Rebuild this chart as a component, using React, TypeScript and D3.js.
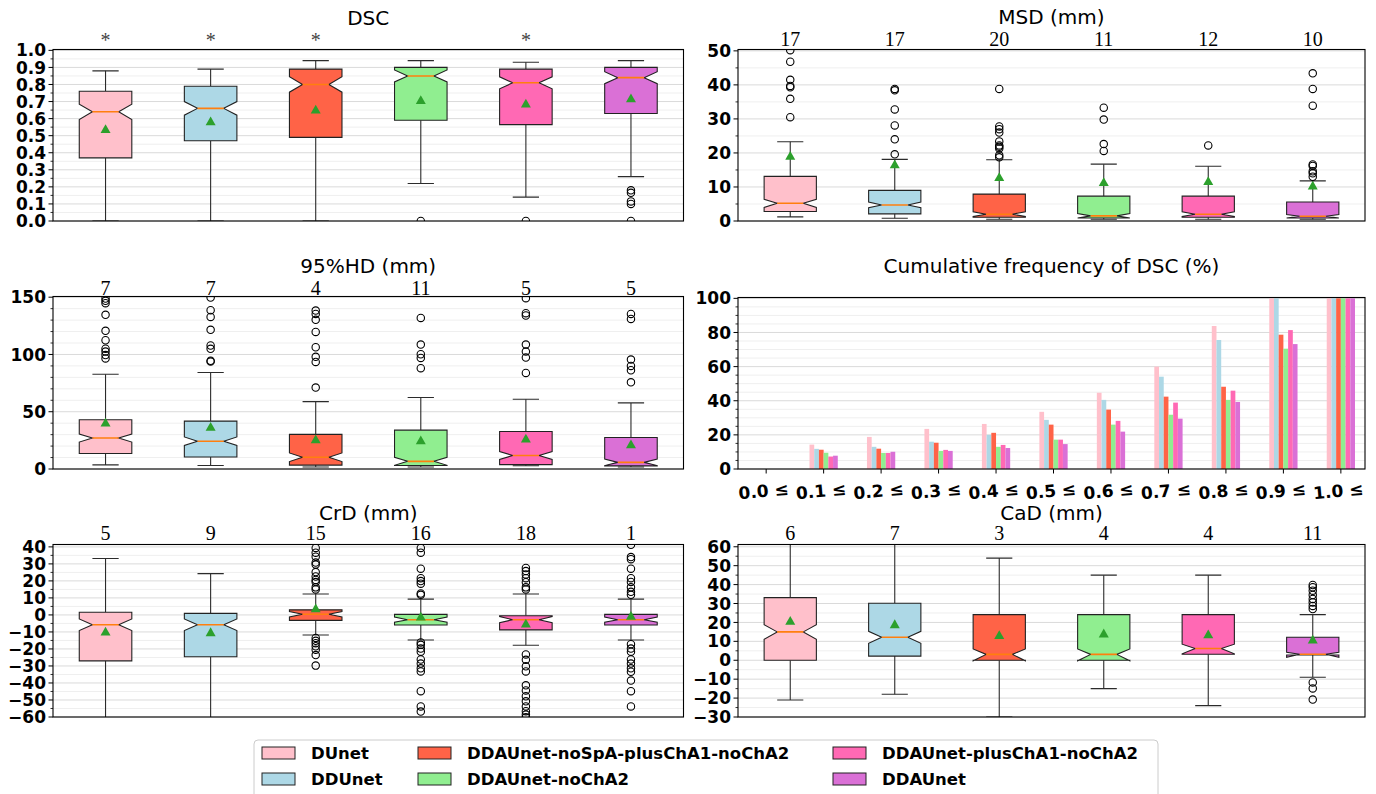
import React from 'react';
import * as d3 from 'd3';

const MODELS = ['DUnet', 'DDUnet', 'DDAUnet-noSpA-plusChA1-noChA2', 'DDAUnet-noChA2', 'DDAUnet-plusChA1-noChA2', 'DDAUnet'];
const COLORS = ['#ffc0cb', '#add8e6', '#ff6347', '#90ee90', '#ff69b4', '#da70d6'];

// ---- DSC ----
const DSC_Q1 = [0.37, 0.47, 0.49, 0.59, 0.565, 0.63];
const DSC_MED = [0.64, 0.66, 0.80, 0.85, 0.81, 0.84];
const DSC_Q3 = [0.76, 0.79, 0.89, 0.90, 0.89, 0.90];
const DSC_NLO = [0.595, 0.62, 0.755, 0.815, 0.775, 0.805];
const DSC_NHI = [0.685, 0.70, 0.845, 0.885, 0.845, 0.875];
const DSC_WLO = [0.0, 0.0, 0.0, 0.22, 0.14, 0.26];
const DSC_WHI = [0.88, 0.89, 0.94, 0.94, 0.93, 0.94];
const DSC_MEAN = [0.54, 0.585, 0.655, 0.71, 0.69, 0.72];
const DSC_OUT = [[], [], [], [0.0], [0.0], [0.18, 0.165, 0.115, 0.10, 0.0]];
const DSC_STARS = ['*', '*', '*', '', '*', ''];

// ---- MSD (mm) ----
const MSD_Q1 = [2.8, 2.1, 1.1, 0.9, 1.1, 0.9];
const MSD_MED = [5.2, 4.7, 2.0, 1.5, 2.0, 1.4];
const MSD_Q3 = [13.1, 9.0, 7.9, 7.3, 7.3, 5.6];
const MSD_NLO = [4.0, 3.9, 1.3, 0.9, 1.3, 0.9];
const MSD_NHI = [6.4, 5.6, 2.7, 2.2, 2.7, 1.9];
const MSD_WLO = [1.2, 0.8, 0.5, 0.5, 0.5, 0.5];
const MSD_WHI = [23.3, 18.1, 18.0, 16.7, 16.1, 11.8];
const MSD_MEAN = [19.2, 16.7, 13.0, 11.5, 11.8, 10.5];
const MSD_OUT = [
  [50.2, 46.8, 41.5, 39.7, 39.3, 35.9, 30.5],
  [38.8, 38.4, 32.8, 28.1, 24.0, 19.6],
  [38.8, 27.8, 27.0, 26.0, 23.4, 22.2, 21.8, 21.3, 19.3, 18.7],
  [33.3, 29.8, 22.6, 20.6],
  [22.2],
  [43.4, 38.8, 33.9, 16.6, 16.2, 14.6, 14.0, 13.0],
];
const MSD_COUNTS = ['17', '17', '20', '11', '12', '10'];

// ---- 95%HD (mm) ----
const HD_Q1 = [13.5, 10.5, 3.4, 3.0, 3.8, 2.7];
const HD_MED = [27.0, 24.2, 10.3, 6.7, 11.8, 5.8];
const HD_Q3 = [43.0, 41.8, 30.2, 33.9, 32.7, 27.5];
const HD_NLO = [23.5, 20.5, 6.5, 3.2, 8.3, 3.0];
const HD_NHI = [30.5, 28.0, 14.0, 10.2, 15.3, 8.7];
const HD_WLO = [3.6, 3.0, 1.8, 1.8, 2.8, 1.8];
const HD_WHI = [82.7, 84.3, 58.8, 62.4, 60.9, 57.7];
const HD_MEAN = [40.8, 37.0, 26.2, 25.3, 26.8, 21.8];
const HD_OUT = [
  [148.8, 146.8, 144.8, 134.6, 120.6, 112.4, 105.0, 102.5, 99.5, 96.5],
  [149.7, 138.6, 132.8, 121.5, 107.8, 104.9, 94.5, 93.8],
  [138.3, 135.4, 130.2, 119.7, 106.3, 97.9, 93.5, 71.1],
  [131.9, 108.6, 100.2, 97.0, 88.0],
  [149.1, 136.0, 134.0, 108.6, 102.5, 97.3, 83.9],
  [135.4, 131.0, 95.5, 90.0, 86.2, 75.7],
];
const HD_COUNTS = ['7', '7', '4', '11', '5', '5'];

// ---- Cumulative frequency of DSC (%) ----
const CF_LABELS = ['0.0 ≤', '0.1 ≤', '0.2 ≤', '0.3 ≤', '0.4 ≤', '0.5 ≤', '0.6 ≤', '0.7 ≤', '0.8 ≤', '0.9 ≤', '1.0 ≤'];
const CF_DUNET = [0, 14.3, 18.8, 23.5, 26.4, 33.5, 44.7, 60.0, 83.8, 100, 100];
const CF_DDUNET = [0, 11.8, 13.0, 16.0, 20.0, 28.8, 40.5, 54.1, 75.6, 100, 100];
const CF_NOSPA = [0, 11.3, 11.9, 15.4, 21.2, 26.0, 34.8, 42.4, 48.2, 78.7, 100];
const CF_NOCHA2 = [0, 9.5, 9.4, 10.6, 13.0, 17.2, 26.0, 31.8, 40.5, 70.5, 100];
const CF_PLUSCHA1 = [0, 7.3, 9.4, 11.2, 14.1, 17.2, 28.2, 38.9, 45.9, 81.4, 100];
const CF_DDAUNET = [0, 7.8, 10.1, 10.6, 12.3, 14.6, 21.9, 29.5, 39.3, 73.2, 100];

// ---- CrD (mm) ----
const CRD_Q1 = [-27.0, -24.6, -3.2, -5.9, -8.8, -5.9];
const CRD_MED = [-5.8, -5.8, 0.4, -2.8, -2.8, -2.8];
const CRD_Q3 = [1.6, 0.9, 3.0, 0.3, -0.5, 0.3];
const CRD_NLO = [-9.2, -9.2, -1.2, -4.3, -4.6, -4.3];
const CRD_NHI = [-2.4, -2.4, 2.0, -1.3, -1.0, -1.3];
const CRD_WLO = [-63, -63, -11.8, -14.7, -17.8, -14.7];
const CRD_WHI = [33.2, 24.3, 12.3, 9.3, 12.3, 9.3];
const CRD_MEAN = [-9.6, -10.0, 4.0, -0.8, -4.9, -0.4];
const CRD_OUT = [
  [],
  [],
  [39.4, 36.6, 34.2, 30.8, 29.6, 25.2, 22.6, 20.6, 19.3, 16.2, 15.0, -13.5, -15.2, -16.6, -18.4, -20.4, -23.6, -29.8],
  [39.4, 36.6, 27.2, 21.6, 19.9, 18.4, 12.6, 11.8, -16.2, -17.6, -19.8, -21.6, -26.2, -28.6, -31.4, -33.2, -44.8, -53.8, -56.8],
  [27.6, 25.8, 23.8, 21.6, 19.2, 16.2, 15.0, -23.2, -26.4, -30.2, -33.2, -41.4, -44.4, -47.8, -50.8, -53.8, -56.6, -58.6, -60.2],
  [41.2, 34.0, 32.8, 27.2, 21.6, 19.4, 16.2, 13.6, 11.8, -17.2, -19.8, -21.6, -26.2, -28.6, -31.4, -33.4, -38.6, -44.8, -53.8],
];
const CRD_COUNTS = ['5', '9', '15', '16', '18', '1'];

// ---- CaD (mm) ----
const CAD_Q1 = [0.0, 2.2, 0.0, 0.0, 3.2, 2.8];
const CAD_MED = [15.0, 12.2, 3.1, 3.1, 6.2, 3.2];
const CAD_Q3 = [33.1, 30.1, 24.1, 24.1, 24.1, 12.2];
const CAD_NLO = [11.1, 9.0, -0.3, -0.3, 3.4, 1.6];
const CAD_NHI = [18.8, 15.3, 6.0, 6.0, 8.5, 4.2];
const CAD_WLO = [-21.0, -18.0, -30.0, -15.0, -24.0, -9.0];
const CAD_WHI = [63, 63, 54.0, 45.0, 45.0, 24.1];
const CAD_MEAN = [21.0, 19.2, 13.4, 14.3, 13.8, 11.1];
const CAD_OUT = [[], [], [], [], [], [39.8, 38.6, 36.8, 34.5, 32.4, 30.6, 28.7, 27.1, -11.7, -14.9, -20.8]];
const CAD_COUNTS = ['6', '7', '3', '4', '4', '11'];

type Stat = {
  model: string; color: string; q1: number; med: number; q3: number;
  nlo: number; nhi: number; wlo: number; whi: number; mean: number; out: number[];
};

function buildStats(q1: number[], med: number[], q3: number[], nlo: number[], nhi: number[],
  wlo: number[], whi: number[], mean: number[], out: number[][]): Stat[] {
  return MODELS.map((m, i) => ({
    model: m, color: COLORS[i], q1: q1[i], med: med[i], q3: q3[i], nlo: nlo[i], nhi: nhi[i],
    wlo: wlo[i], whi: whi[i], mean: mean[i], out: out[i],
  }));
}

const SANS = 'DejaVu Sans, Verdana, sans-serif';
const SERIF = 'Liberation Serif, Times New Roman, serif';
const TICK_FS = 17;
const GRID_MAJOR = '#dadada';
const GRID_MINOR = '#efefef';

const LEFT = { x0: 53, x1: 683.5 };
const RIGHT = { x0: 738, x1: 1365 };
const ROW1 = { y0: 49.5, y1: 221 };
const ROW2 = { y0: 296.5, y1: 469 };
const ROW3 = { y0: 544.5, y1: 717 };

function YAxis({ y, x0, x1, majors, minors, fmt }: any) {
  return (
    <g>
      {minors.map((v: number, i: number) => (
        <line key={'mi' + i} x1={x0 - 2.5} x2={x0} y1={y(v)} y2={y(v)} stroke="#000" strokeWidth={0.8} />
      ))}
      {majors.map((v: number, i: number) => (
        <g key={'ma' + i}>
          <line x1={x0 - 4.5} x2={x0} y1={y(v)} y2={y(v)} stroke="#000" strokeWidth={1} />
          <text x={x0 - 7} y={y(v)} dy="0.36em" textAnchor="end" fontFamily={SANS} fontWeight="bold" fontSize={TICK_FS} fill="#000">{fmt(v)}</text>
        </g>
      ))}
    </g>
  );
}

function Grid({ y, x0, x1, majors, minors }: any) {
  return (
    <g>
      {minors.map((v: number, i: number) => (
        <line key={'gm' + i} x1={x0} x2={x1} y1={y(v)} y2={y(v)} stroke={GRID_MINOR} strokeWidth={1} />
      ))}
      {majors.map((v: number, i: number) => (
        <line key={'gM' + i} x1={x0} x2={x1} y1={y(v)} y2={y(v)} stroke={GRID_MAJOR} strokeWidth={1} />
      ))}
    </g>
  );
}

function tickSets(domain: number[], step: number, minorStep: number) {
  const majors = d3.range(Math.ceil(domain[0] / step - 1e-9) * step, domain[1] + 1e-9, step).map((v) => +v.toFixed(6));
  const minors = d3.range(Math.ceil(domain[0] / minorStep - 1e-9) * minorStep, domain[1] + 1e-9, minorStep)
    .map((v) => +v.toFixed(6))
    .filter((v) => !majors.some((t) => Math.abs(t - v) < minorStep / 10));
  return { majors, minors };
}

function BoxPanel({ id, x0, x1, y0, y1, domain, step, minorStep, fmt, stats, title, titleY, labels, labelY, labelColor }: any) {
  const x = d3.scalePoint<string>().domain(MODELS).range([x0, x1]).padding(0.5);
  const y = d3.scaleLinear().domain(domain).range([y1, y0]);
  const bw = x.step() * 0.5;
  const { majors, minors } = tickSets(domain, step, minorStep);
  const clip = 'clip-' + id;
  const line = d3.line();
  return (
    <g>
      <defs>
        <clipPath id={clip}><rect x={x0} y={y0} width={x1 - x0} height={y1 - y0} /></clipPath>
      </defs>
      <rect x={x0} y={y0} width={x1 - x0} height={y1 - y0} fill="#fff" />
      <Grid y={y} x0={x0} x1={x1} majors={majors} minors={minors} />
      <g clipPath={`url(#${clip})`}>
        {stats.map((s: Stat) => {
          const cx = x(s.model) as number;
          const L = cx - bw / 2, R = cx + bw / 2, cL = cx - bw / 4, cR = cx + bw / 4;
          const pts: [number, number][] = [
            [L, y(s.q1)], [R, y(s.q1)], [R, y(s.nlo)], [cR, y(s.med)], [R, y(s.nhi)], [R, y(s.q3)],
            [L, y(s.q3)], [L, y(s.nhi)], [cL, y(s.med)], [L, y(s.nlo)], [L, y(s.q1)],
          ];
          const ym = y(s.mean);
          return (
            <g key={s.model}>
              <line x1={cx} x2={cx} y1={y(s.q1)} y2={y(s.wlo)} stroke="#2b2b2b" strokeWidth={1.1} />
              <line x1={cx} x2={cx} y1={y(s.q3)} y2={y(s.whi)} stroke="#2b2b2b" strokeWidth={1.1} />
              <line x1={cL} x2={cR} y1={y(s.wlo)} y2={y(s.wlo)} stroke="#2b2b2b" strokeWidth={1.1} />
              <line x1={cL} x2={cR} y1={y(s.whi)} y2={y(s.whi)} stroke="#2b2b2b" strokeWidth={1.1} />
              <path d={(line(pts) as string) + 'Z'} fill={s.color} stroke="#222" strokeWidth={1.1} strokeLinejoin="miter" />
              <line x1={cL} x2={cR} y1={y(s.med)} y2={y(s.med)} stroke="#ff7f0e" strokeWidth={1.6} />
              {s.out.map((v, j) => (
                <circle key={j} cx={cx} cy={y(v)} r={3.7} fill="none" stroke="#000" strokeWidth={1.1} />
              ))}
              <path d={`M${cx},${ym - 4.6}L${cx + 5},${ym + 4.2}L${cx - 5},${ym + 4.2}Z`} fill="#2ca02c" />
            </g>
          );
        })}
      </g>
      <rect x={x0} y={y0} width={x1 - x0} height={y1 - y0} fill="none" stroke="#000" strokeWidth={1.1} />
      <YAxis y={y} x0={x0} x1={x1} majors={majors} minors={minors} fmt={fmt} />
      <text x={(x0 + x1) / 2} y={titleY} textAnchor="middle" fontFamily={SANS} fontSize={20} fill="#000">{title}</text>
      {labels && labels.map((t: string, i: number) => (
        <text key={i} x={x(MODELS[i]) as number} y={labelY} textAnchor="middle" fontFamily={SERIF} fontSize={20} fill={labelColor || '#000'}>{t}</text>
      ))}
    </g>
  );
}

function CumPanel({ x0, x1, y0, y1 }: any) {
  const series = [CF_DUNET, CF_DDUNET, CF_NOSPA, CF_NOCHA2, CF_PLUSCHA1, CF_DDAUNET];
  const domain = [0, 100.5];
  const y = d3.scaleLinear().domain(domain).range([y1, y0]);
  const xi = d3.scaleLinear().domain([-0.49, 10.42]).range([x0, x1]);
  const step = xi(1) - xi(0);
  const bw = step * 0.082;
  const { majors, minors } = tickSets(domain, 20, 5);
  return (
    <g>
      <rect x={x0} y={y0} width={x1 - x0} height={y1 - y0} fill="#fff" />
      <Grid y={y} x0={x0} x1={x1} majors={majors} minors={minors} />
      {CF_LABELS.map((lab, i) => (
        <g key={lab}>
          {series.map((ser, k) => (
            <rect key={k} x={xi(i) + (k - 3) * bw} y={y(ser[i])} width={bw} height={y(0) - y(ser[i])} fill={COLORS[k]} />
          ))}
        </g>
      ))}
      <rect x={x0} y={y0} width={x1 - x0} height={y1 - y0} fill="none" stroke="#000" strokeWidth={1.1} />
      <YAxis y={y} x0={x0} x1={x1} majors={majors} minors={minors} fmt={d3.format('d')} />
      {CF_LABELS.map((lab, i) => (
        <g key={'t' + lab}>
          <line x1={xi(i)} x2={xi(i)} y1={y1} y2={y1 + 4.5} stroke="#000" />
          <text transform={`translate(${xi(i) - 2},${y1 + 28}) rotate(-5)`} textAnchor="middle" fontFamily={SANS} fontWeight="bold" fontSize={TICK_FS} fill="#000">{lab}</text>
        </g>
      ))}
      <text x={(x0 + x1) / 2} y={273} textAnchor="middle" fontFamily={SANS} fontSize={20} fill="#000">Cumulative frequency of DSC (%)</text>
    </g>
  );
}

function Legend() {
  const colX = [262, 418, 833];
  const rowY = [753, 779];
  return (
    <g>
      <rect x={254} y={740} width={904} height={70} rx={4} fill="#fff" stroke="#cccccc" strokeWidth={1} />
      {MODELS.map((m, i) => {
        const c = Math.floor(i / 2), r = i % 2;
        return (
          <g key={m}>
            <rect x={colX[c]} y={rowY[r] - 6} width={33} height={12} fill={COLORS[i]} stroke="#222" strokeWidth={1} />
            <text x={colX[c] + 49} y={rowY[r]} dy="0.36em" fontFamily={SANS} fontWeight="bold" fontSize={16.5} fill="#000">{m}</text>
          </g>
        );
      })}
    </g>
  );
}

export default function App() {
  const dsc = buildStats(DSC_Q1, DSC_MED, DSC_Q3, DSC_NLO, DSC_NHI, DSC_WLO, DSC_WHI, DSC_MEAN, DSC_OUT);
  const msd = buildStats(MSD_Q1, MSD_MED, MSD_Q3, MSD_NLO, MSD_NHI, MSD_WLO, MSD_WHI, MSD_MEAN, MSD_OUT);
  const hd = buildStats(HD_Q1, HD_MED, HD_Q3, HD_NLO, HD_NHI, HD_WLO, HD_WHI, HD_MEAN, HD_OUT);
  const crd = buildStats(CRD_Q1, CRD_MED, CRD_Q3, CRD_NLO, CRD_NHI, CRD_WLO, CRD_WHI, CRD_MEAN, CRD_OUT);
  const cad = buildStats(CAD_Q1, CAD_MED, CAD_Q3, CAD_NLO, CAD_NHI, CAD_WLO, CAD_WHI, CAD_MEAN, CAD_OUT);
  const f1 = d3.format('.1f');
  const fi = d3.format('d');
  return (
    <svg width={1376} height={794} style={{ position: 'absolute', left: 0, top: 0, background: '#fff' }}>
      <rect x={0} y={0} width={1376} height={794} fill="#fff" />
      <BoxPanel id="dsc" {...LEFT} {...ROW1} domain={[0, 1.005]} step={0.1} minorStep={0.05} fmt={f1} stats={dsc}
        title="DSC" titleY={25} labels={DSC_STARS} labelY={47} labelColor="#444" />
      <BoxPanel id="msd" {...RIGHT} {...ROW1} domain={[0, 50.4]} step={10} minorStep={5} fmt={fi} stats={msd}
        title="MSD (mm)" titleY={24} labels={MSD_COUNTS} labelY={46} />
      <BoxPanel id="hd" {...LEFT} {...ROW2} domain={[0, 150.6]} step={50} minorStep={10} fmt={fi} stats={hd}
        title="95%HD (mm)" titleY={273} labels={HD_COUNTS} labelY={295} />
      <CumPanel {...RIGHT} y0={297.5} y1={469} />
      <BoxPanel id="crd" {...LEFT} {...ROW3} domain={[-60, 41.4]} step={10} minorStep={5} fmt={fi} stats={crd}
        title="CrD (mm)" titleY={520} labels={CRD_COUNTS} labelY={540} />
      <BoxPanel id="cad" {...RIGHT} {...ROW3} domain={[-30, 61.2]} step={10} minorStep={5} fmt={fi} stats={cad}
        title="CaD (mm)" titleY={520} labels={CAD_COUNTS} labelY={540} />
      <Legend />
    </svg>
  );
}
